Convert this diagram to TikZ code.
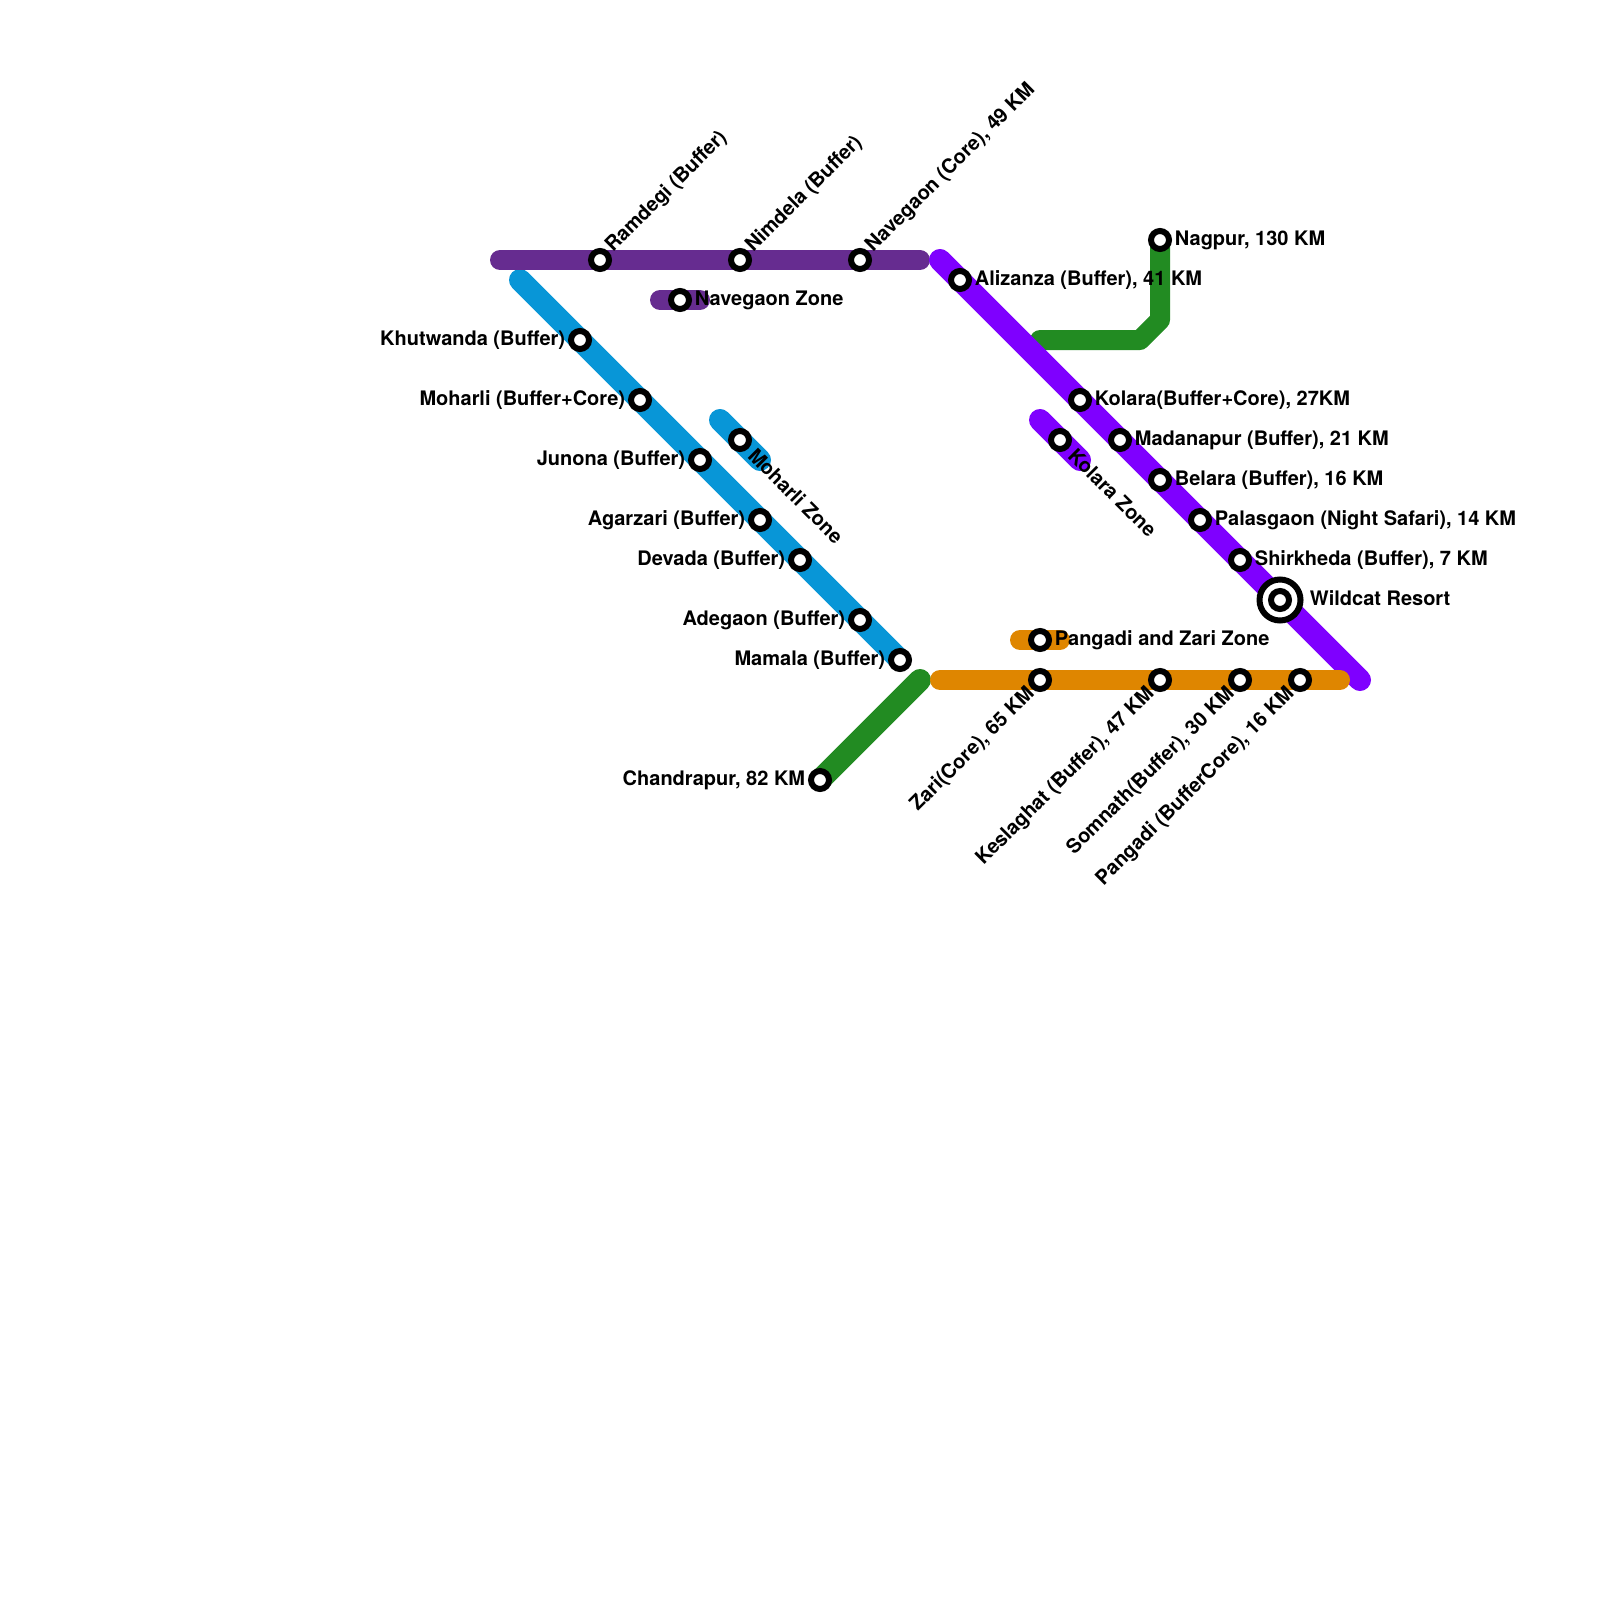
\documentclass[tikz,border=0pt]{standalone}
\usepackage{fontspec}
\setmainfont{TeX Gyre Heros}
\usetikzlibrary{positioning,backgrounds}

\definecolor{navegaonpurple}{HTML}{662C90}
\definecolor{moharliblue}{HTML}{0896D7}
\definecolor{kolaraviolet}{HTML}{7F00FF}
\definecolor{pangadiorange}{HTML}{DF8600}
\definecolor{forestgreen}{HTML}{228B22}

\tikzset{
    stop/.style = {circle, draw = black, fill = white, line width = 3pt, minimum size = 9pt, inner sep = 0pt},
    ring/.style = {circle, draw = black, fill = white, line width = 3pt, minimum size = 20.5pt, inner sep = 0pt},
    lbl/.style = {font = \fontsize{10}{12}\selectfont\bfseries, inner sep = 0pt, text = black},
    lblup/.style = {lbl, rotate = 45, anchor = west, xshift = 1pt, yshift = 0.5pt},
    lbldown/.style = {lbl, rotate = -45, anchor = west, xshift = 2.25pt},
    lblunder/.style = {lbl, rotate = 45, anchor = east, xshift = -0.75pt, yshift = -0.75pt},
    line/.style = {line width = 10pt, line cap = round, line join = round},
    diagline/.style = {line width = 11pt, line cap = round}
}

\begin{document}
\begin{tikzpicture}[x = 0.5pt, y = -0.5pt, node distance = 1.25pt]
    \useasboundingbox (0,0) rectangle (1600,1600);

    % free line ends
    \coordinate (purplewest) at (500,260);
    \coordinate (purpleeast) at (920,260);
    \coordinate (navzonewest) at (660,300);
    \coordinate (navzoneeast) at (700,300);
    \coordinate (bluenorth) at (520,280);
    \coordinate (mohzonenorth) at (720,420);
    \coordinate (mohzonesouth) at (760,460);
    \coordinate (violetnorth) at (940,260);
    \coordinate (violetsouth) at (1360,680);
    \coordinate (kolzonenorth) at (1040,420);
    \coordinate (kolzonesouth) at (1080,460);
    \coordinate (orangewest) at (940,680);
    \coordinate (orangeeast) at (1340,680);
    \coordinate (pangzonewest) at (1020,640);
    \coordinate (pangzoneeast) at (1060,640);
    \coordinate (greeneast) at (920,680);
    \coordinate (greenwest) at (1040,340);
    \coordinate (greenbenda) at (1140,340);
    \coordinate (greenbendb) at (1160,320);

    % stations
    \node [stop] (ramdegi) at (600,260) {};
    \node [stop] (nimdela) at (740,260) {};
    \node [stop] (navegaon) at (860,260) {};
    \node [stop] (navzone) at (680,300) {};
    \node [stop] (khutwanda) at (580,340) {};
    \node [stop] (moharli) at (640,400) {};
    \node [stop] (junona) at (700,460) {};
    \node [stop] (agarzari) at (760,520) {};
    \node [stop] (devada) at (800,560) {};
    \node [stop] (adegaon) at (860,620) {};
    \node [stop] (mamala) at (900,660) {};
    \node [stop] (mohzone) at (740,440) {};
    \node [stop] (alizanza) at (960,280) {};
    \node [stop] (kolara) at (1080,400) {};
    \node [stop] (madanapur) at (1120,440) {};
    \node [stop] (belara) at (1160,480) {};
    \node [stop] (palasgaon) at (1200,520) {};
    \node [stop] (shirkheda) at (1240,560) {};
    \node [ring] (wildcat) at (1280,600) {};
    \node [stop] (wildcatcore) at (1280,600) {};
    \node [stop] (kolzone) at (1060,440) {};
    \node [stop] (zari) at (1040,680) {};
    \node [stop] (keslaghat) at (1160,680) {};
    \node [stop] (somnath) at (1240,680) {};
    \node [stop] (pangadi) at (1300,680) {};
    \node [stop] (pangzone) at (1040,640) {};
    \node [stop] (nagpur) at (1160,240) {};
    \node [stop] (chandrapur) at (820,780) {};

    % lines
    \begin{scope}[on background layer]
        \draw [diagline, forestgreen] (greeneast) -- (chandrapur.center);
        \draw [line, forestgreen] (greenwest) -- (greenbenda) -- (greenbendb) -- (nagpur.center);
        \draw [diagline, moharliblue] (bluenorth) -- (mamala.center);
        \draw [diagline, moharliblue] (mohzonenorth) -- (mohzonesouth);
        \draw [line, navegaonpurple] (purplewest) -- (purpleeast);
        \draw [line, navegaonpurple] (navzonewest) -- (navzoneeast);
        \draw [diagline, kolaraviolet] (violetnorth) -- (violetsouth);
        \draw [diagline, kolaraviolet] (kolzonenorth) -- (kolzonesouth);
        \draw [line, pangadiorange] (orangewest) -- (orangeeast);
        \draw [line, pangadiorange] (pangzonewest) -- (pangzoneeast);
    \end{scope}

    % labels
    \node [lblup] (ramdegitxt) at (ramdegi.45) {Ramdegi (Buffer)};
    \node [lblup] (nimdelatxt) at (nimdela.45) {Nimdela (Buffer)};
    \node [lblup] (navegaontxt) at (navegaon.45) {Navegaon (Core), 49 KM};
    \node [lbl, right = of navzone] (navzonetxt) {Navegaon Zone};
    \node [lbl, left = of khutwanda] (khutwandatxt) {Khutwanda (Buffer)};
    \node [lbl, left = of moharli] (moharlitxt) {Moharli (Buffer+Core)};
    \node [lbl, left = of junona] (junonatxt) {Junona (Buffer)};
    \node [lbl, left = of agarzari] (agarzaritxt) {Agarzari (Buffer)};
    \node [lbl, left = of devada] (devadatxt) {Devada (Buffer)};
    \node [lbl, left = of adegaon] (adegaontxt) {Adegaon (Buffer)};
    \node [lbl, left = of mamala] (mamalatxt) {Mamala (Buffer)};
    \node [lbldown] (mohzonetxt) at (mohzone.-45) {Moharli Zone};
    \node [lbl, right = of alizanza] (alizanzatxt) {Alizanza (Buffer), 41 KM};
    \node [lbl, right = of nagpur] (nagpurtxt) {Nagpur, 130 KM};
    \node [lbl, right = of kolara] (kolaratxt) {Kolara(Buffer+Core), 27KM};
    \node [lbl, right = of madanapur] (madanapurtxt) {Madanapur (Buffer), 21 KM};
    \node [lbl, right = of belara] (belaratxt) {Belara (Buffer), 16 KM};
    \node [lbl, right = of palasgaon] (palasgaontxt) {Palasgaon (Night Safari), 14 KM};
    \node [lbl, right = of shirkheda] (shirkhedatxt) {Shirkheda (Buffer), 7 KM};
    \node [lbl, right = 3pt of wildcat, yshift = 1pt] (wildcattxt) {Wildcat Resort};
    \node [lbldown] (kolzonetxt) at (kolzone.-45) {Kolara Zone};
    \node [lbl, right = of pangzone] (pangzonetxt) {Pangadi and Zari Zone};
    \node [lblunder] (zaritxt) at (zari.225) {Zari(Core), 65 KM};
    \node [lblunder] (keslaghattxt) at (keslaghat.225) {Keslaghat (Buffer), 47 KM};
    \node [lblunder] (somnathtxt) at (somnath.225) {Somnath(Buffer), 30 KM};
    \node [lblunder] (pangaditxt) at (pangadi.225) {Pangadi (BufferCore), 16 KM};
    \node [lbl, left = of chandrapur] (chandrapurtxt) {Chandrapur, 82 KM};
\end{tikzpicture}
\end{document}
